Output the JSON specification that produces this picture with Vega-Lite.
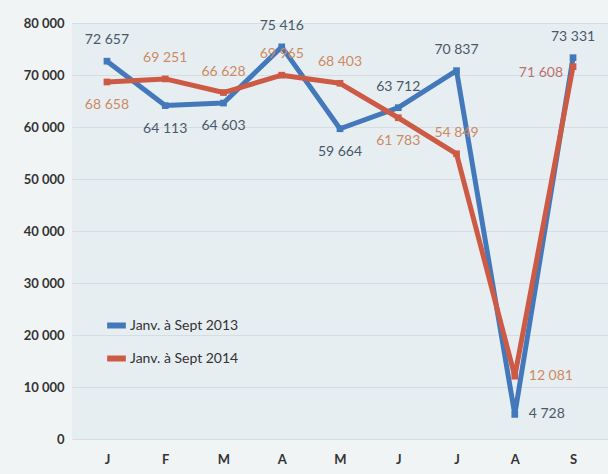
{
  "$schema": "https://vega.github.io/schema/vega-lite/v6.json",
  "width": 536,
  "height": 416,
  "autosize": "none",
  "padding": {"left": 72, "top": 23, "right": 0, "bottom": 35},
  "background": "#f1f4f5",
  "config": {
    "view": {"fill": "#e7eef1", "stroke": null},
    "font": "Lato"
  },
  "data": {
    "values": [
      {"mois": "Janv", "serie": "Janv. à Sept 2013", "v": 72657},
      {"mois": "Févr", "serie": "Janv. à Sept 2013", "v": 64113},
      {"mois": "Mars", "serie": "Janv. à Sept 2013", "v": 64603},
      {"mois": "Avr", "serie": "Janv. à Sept 2013", "v": 75416},
      {"mois": "Mai", "serie": "Janv. à Sept 2013", "v": 59664},
      {"mois": "Juin", "serie": "Janv. à Sept 2013", "v": 63712},
      {"mois": "Juil", "serie": "Janv. à Sept 2013", "v": 70837},
      {"mois": "Août", "serie": "Janv. à Sept 2013", "v": 4728},
      {"mois": "Sept", "serie": "Janv. à Sept 2013", "v": 73331},
      {"mois": "Janv", "serie": "Janv. à Sept 2014", "v": 68658},
      {"mois": "Févr", "serie": "Janv. à Sept 2014", "v": 69251},
      {"mois": "Mars", "serie": "Janv. à Sept 2014", "v": 66628},
      {"mois": "Avr", "serie": "Janv. à Sept 2014", "v": 69965},
      {"mois": "Mai", "serie": "Janv. à Sept 2014", "v": 68403},
      {"mois": "Juin", "serie": "Janv. à Sept 2014", "v": 61783},
      {"mois": "Juil", "serie": "Janv. à Sept 2014", "v": 54849},
      {"mois": "Août", "serie": "Janv. à Sept 2014", "v": 12081},
      {"mois": "Sept", "serie": "Janv. à Sept 2014", "v": 71608}
    ]
  },
  "transform": [
    {"calculate": "replace(format(datum.v, ','), ',', ' ')", "as": "lab"},
    {"calculate": "datum.serie == 'Janv. à Sept 2013'", "as": "is13"}
  ],
  "encoding": {
    "x": {
      "field": "mois", "type": "ordinal",
      "sort": ["Janv", "Févr", "Mars", "Avr", "Mai", "Juin", "Juil", "Août", "Sept"],
      "scale": {"padding": 0.6},
      "axis": {
        "title": null, "labelAngle": 0, "labelExpr": "upper(slice(datum.value, 0, 1))",
        "domain": false, "ticks": false, "labelPadding": 14,
        "labelFontSize": 13, "labelColor": "#333333", "labelFont": "Lato", "labelFontWeight": "bold"
      }
    },
    "y": {
      "field": "v", "type": "quantitative",
      "scale": {"domain": [0, 80000]},
      "axis": {
        "title": null, "values": [0, 10000, 20000, 30000, 40000, 50000, 60000, 70000, 80000],
        "labelOverlap": false,
        "labelExpr": "replace(format(datum.value, ','), ',', ' ')",
        "domain": false, "ticks": false, "labelPadding": 8,
        "labelFontSize": 13, "labelColor": "#333333", "labelFontWeight": "bold",
        "gridColor": "#d3dde3", "gridWidth": 1
      }
    }
  },
  "layer": [
    {
      "mark": {"type": "line", "strokeWidth": 5, "strokeJoin": "round"},
      "encoding": {
        "color": {
          "field": "serie", "type": "nominal",
          "scale": {"range": ["#4379bb", "#cd5a45"]},
          "legend": {
            "title": null, "orient": "none", "legendX": 32, "legendY": 290,
            "symbolType": "stroke", "symbolStrokeWidth": 6, "symbolSize": 350,
            "labelFontSize": 14, "labelColor": "#333333", "rowPadding": 8,
            "labelOffset": 1
          }
        }
      }
    },
    {
      "mark": {"type": "point", "shape": "square", "filled": true, "size": 45, "opacity": 1},
      "encoding": {
        "color": {"field": "serie", "type": "nominal", "legend": null}
      }
    },
    {
      "transform": [{"filter": "(datum.is13 && indexof(['Janv','Avr','Juin','Juil','Sept'], datum.mois) >= 0) || (!datum.is13 && indexof(['Févr','Mars','Avr','Mai','Juil'], datum.mois) >= 0)"}],
      "mark": {"type": "text", "dy": -21, "fontSize": 14},
      "encoding": {
        "text": {"field": "lab"},
        "color": {"condition": {"test": "datum.is13", "value": "#4a586a"}, "value": "#cc8a62"}
      }
    },
    {
      "transform": [{"filter": "(datum.is13 && indexof(['Févr','Mars','Mai'], datum.mois) >= 0) || (!datum.is13 && indexof(['Janv','Juin'], datum.mois) >= 0)"}],
      "mark": {"type": "text", "dy": 23, "fontSize": 14},
      "encoding": {
        "text": {"field": "lab"},
        "color": {"condition": {"test": "datum.is13", "value": "#4a586a"}, "value": "#cc8a62"}
      }
    },
    {
      "transform": [{"filter": "datum.mois == 'Août'"}],
      "mark": {"type": "text", "align": "left", "dx": 14, "dy": 0, "fontSize": 14},
      "encoding": {
        "text": {"field": "lab"},
        "color": {"condition": {"test": "datum.is13", "value": "#4a586a"}, "value": "#cc8a62"}
      }
    },
    {
      "transform": [{"filter": "!datum.is13 && datum.mois == 'Sept'"}],
      "mark": {"type": "text", "align": "right", "dx": -10, "dy": 6, "fontSize": 14},
      "encoding": {
        "text": {"field": "lab"},
        "color": {"value": "#c0706a"}
      }
    }
  ]
}
